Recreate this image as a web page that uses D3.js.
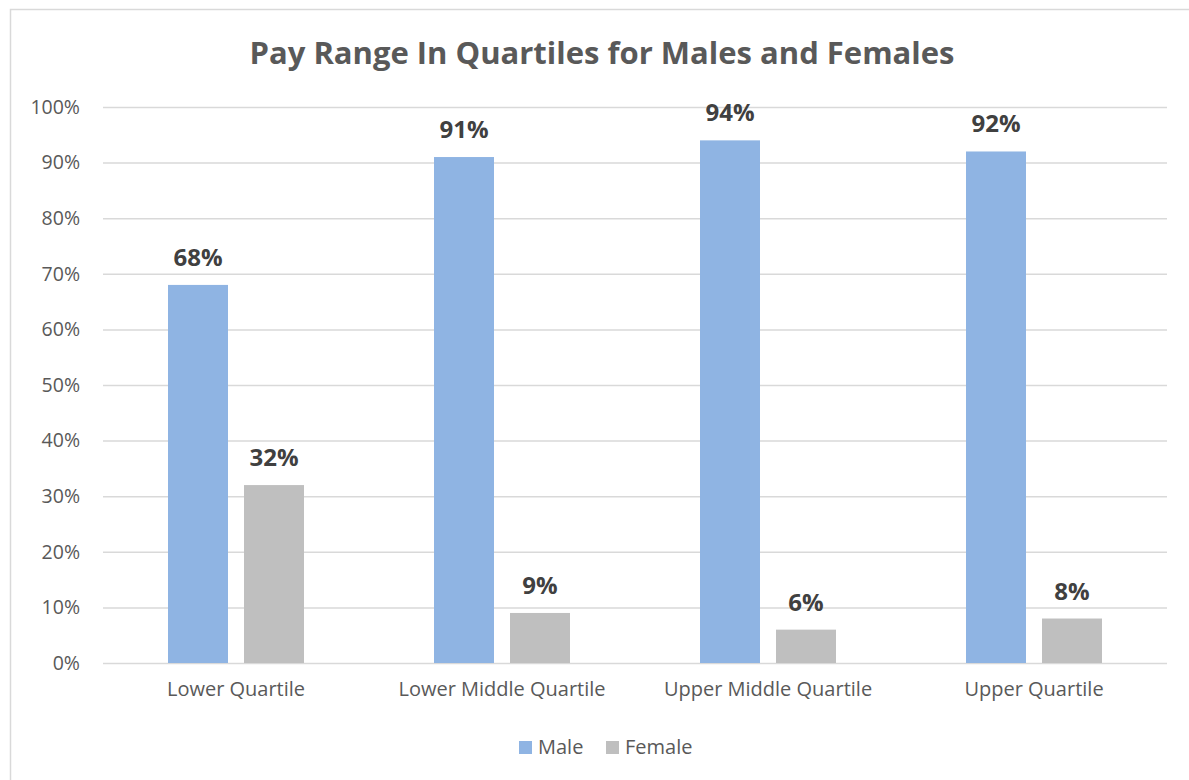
<!doctype html>
<html>
<head>
<script src="https://d3js.org/d3.v7.min.js"></script>
<style>
    body { margin: 0; background: #fff; }
    text { font-family: "Open Sans", "Noto Sans", sans-serif; }
</style>
</head>
<body>
<script>

    // data
    var categories = ["Lower Quartile", "Lower Middle Quartile", "Upper Middle Quartile", "Upper Quartile"];
    var seriesNames = ["Male", "Female"];
    var maleValues = [68, 91, 94, 92];
    var femaleValues = [32, 9, 6, 8];
    var yTicks = [0, 10, 20, 30, 40, 50, 60, 70, 80, 90, 100];
    var colors = ["#8FB4E3", "#BFBFBF"];

    var W = 1189, H = 780;
    var plot = {left: 103, right: 1167, top: 107, bottom: 663};

    var svg = d3.select("body")
        .append("svg")
        .attr("width", W)
        .attr("height", H);

    // chart border
    svg.append("rect")
        .attr("x", 10.5)
        .attr("y", 9.5)
        .attr("width", 1184)
        .attr("height", 790)
        .attr("fill", "white")
        .attr("stroke", "#d9d9d9")
        .attr("stroke-width", 1.5);

    // title
    svg.append("text")
        .attr("x", 602)
        .attr("y", 64)
        .attr("text-anchor", "middle")
        .attr("font-size", "31px")
        .attr("font-weight", "bold")
        .attr("fill", "#595959")
        .text("Pay Range In Quartiles for Males and Females");

    var x0 = d3.scaleBand()
        .domain(categories)
        .range([plot.left, plot.right]);

    var x1 = d3.scaleBand()
        .domain(seriesNames)
        .range([0, 136])
        .paddingInner(16 / 76);

    var y = d3.scaleLinear()
        .domain([0, 100])
        .range([plot.bottom, plot.top]);

    // gridlines + y labels
    var yAxis = svg.append("g")
        .attr("transform", "translate(" + plot.left + ",0)")
        .call(d3.axisLeft(y)
            .tickValues(yTicks)
            .tickSize(-(plot.right - plot.left))
            .tickPadding(23)
            .tickFormat(function (d) { return d + "%"; }));
    yAxis.select(".domain").remove();
    yAxis.selectAll(".tick line")
        .attr("stroke", "#d9d9d9")
        .attr("stroke-width", 1.5);
    yAxis.selectAll(".tick text")
        .attr("fill", "#595959")
        .attr("font-size", "19.5px");

    // x labels
    var xAxis = svg.append("g")
        .attr("transform", "translate(0," + plot.bottom + ")")
        .call(d3.axisBottom(x0).tickSize(0).tickPadding(19));
    xAxis.select(".domain").remove();
    xAxis.selectAll(".tick text")
        .attr("fill", "#595959")
        .attr("font-size", "20px");

    var rows = categories.map(function (c, i) {
        return {cat: c, values: [
            {s: seriesNames[0], v: maleValues[i], c: colors[0]},
            {s: seriesNames[1], v: femaleValues[i], c: colors[1]}
        ]};
    });

    var groups = svg.append("g")
        .selectAll("g")
        .data(rows)
        .enter()
        .append("g")
        .attr("transform", function (d) {
            return "translate(" + (x0(d.cat) + x0.bandwidth() / 2 - 68) + ",0)";
        });

    groups.selectAll("rect")
        .data(function (d) { return d.values; })
        .enter()
        .append("rect")
        .attr("x", function (d) { return x1(d.s); })
        .attr("y", function (d) { return y(d.v); })
        .attr("width", x1.bandwidth())
        .attr("height", function (d) { return y(0) - y(d.v); })
        .attr("fill", function (d) { return d.c; });

    groups.selectAll("text.lbl")
        .data(function (d) { return d.values; })
        .enter()
        .append("text")
        .attr("class", "lbl")
        .attr("x", function (d) { return x1(d.s) + x1.bandwidth() / 2; })
        .attr("y", function (d) { return y(d.v) - 19; })
        .attr("text-anchor", "middle")
        .attr("font-size", "24px")
        .attr("font-weight", "bold")
        .attr("fill", "#404040")
        .text(function (d) { return d.v + "%"; });

    // legend
    var legend = svg.append("g");
    var legX = [519, 606];
    seriesNames.forEach(function (s, i) {
        legend.append("rect")
            .attr("x", legX[i])
            .attr("y", 741)
            .attr("width", 13)
            .attr("height", 13)
            .attr("fill", colors[i]);
        legend.append("text")
            .attr("x", legX[i] + 19)
            .attr("y", 754)
            .attr("font-size", "20px")
            .attr("fill", "#595959")
            .text(s);
    });

</script>
</body>
</html>
